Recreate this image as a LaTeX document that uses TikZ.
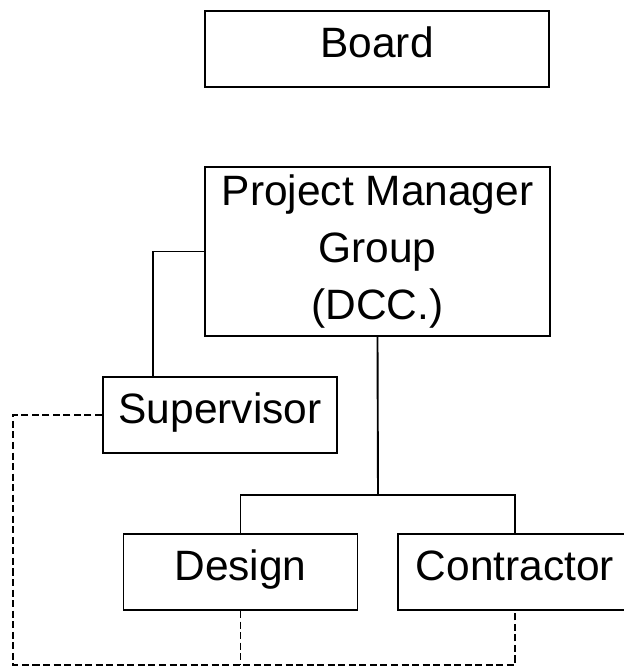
\documentclass[tikz,border=0pt]{standalone}
\usepackage{fontspec}
\setmainfont{Liberation Sans}
\begin{document}
\begin{tikzpicture}[
        every node/.style={align=center},
        unit/.style={draw, line width=1.4pt, inner sep=0pt,
                     font=\fontsize{30.2}{40.6}\selectfont},
        oneline/.style={unit, minimum width=5.85cm, minimum height=1.9cm,
                        text height=0.75cm, text depth=0.35cm},
        link/.style={line width=1.35pt},
        liaison/.style={line width=1.35pt, dash pattern=on 5pt off 2.5pt},
    ]

    % --- Frame of the page --------------------------------------------------
    \useasboundingbox (0,0) rectangle (15.6,-16.675);

    % --- Top boxes ----------------------------------------------------------
    \node[oneline, minimum width=8.6cm] (board) at (9.425,-1.225) {Board};
    \node[unit, minimum width=8.625cm, minimum height=4.225cm]
        (pmg) at (9.4375,-6.2875)
        {Project Manager\\Group\\(DCC.)};

    % --- Lower boxes --------------------------------------------------------
    \node[oneline] (supervisor) at (5.5,-10.375)  {Supervisor};
    \node[oneline] (design)     at (6.0125,-14.3) {Design};
    \node[oneline] (contractor) at (12.875,-14.3) {Contractor};

    % --- Solid reporting lines ----------------------------------------------
    \draw[link] (pmg.west) -| ([xshift=-1.675cm]supervisor.north);
    \coordinate (fork) at (9.45,-12.375);
    \draw[link] (pmg.south) -- (fork);
    \draw[link] (design.north) |- (fork) -| (contractor.north);

    % --- Dashed liaison loop ------------------------------------------------
    \coordinate (loop) at (0.325,-16.625);
    \draw[liaison] (supervisor.west) -| (loop) -| (contractor.south);
    \draw[liaison] (design.south) -- (design.south |- loop);

    \end{tikzpicture}
\end{document}
